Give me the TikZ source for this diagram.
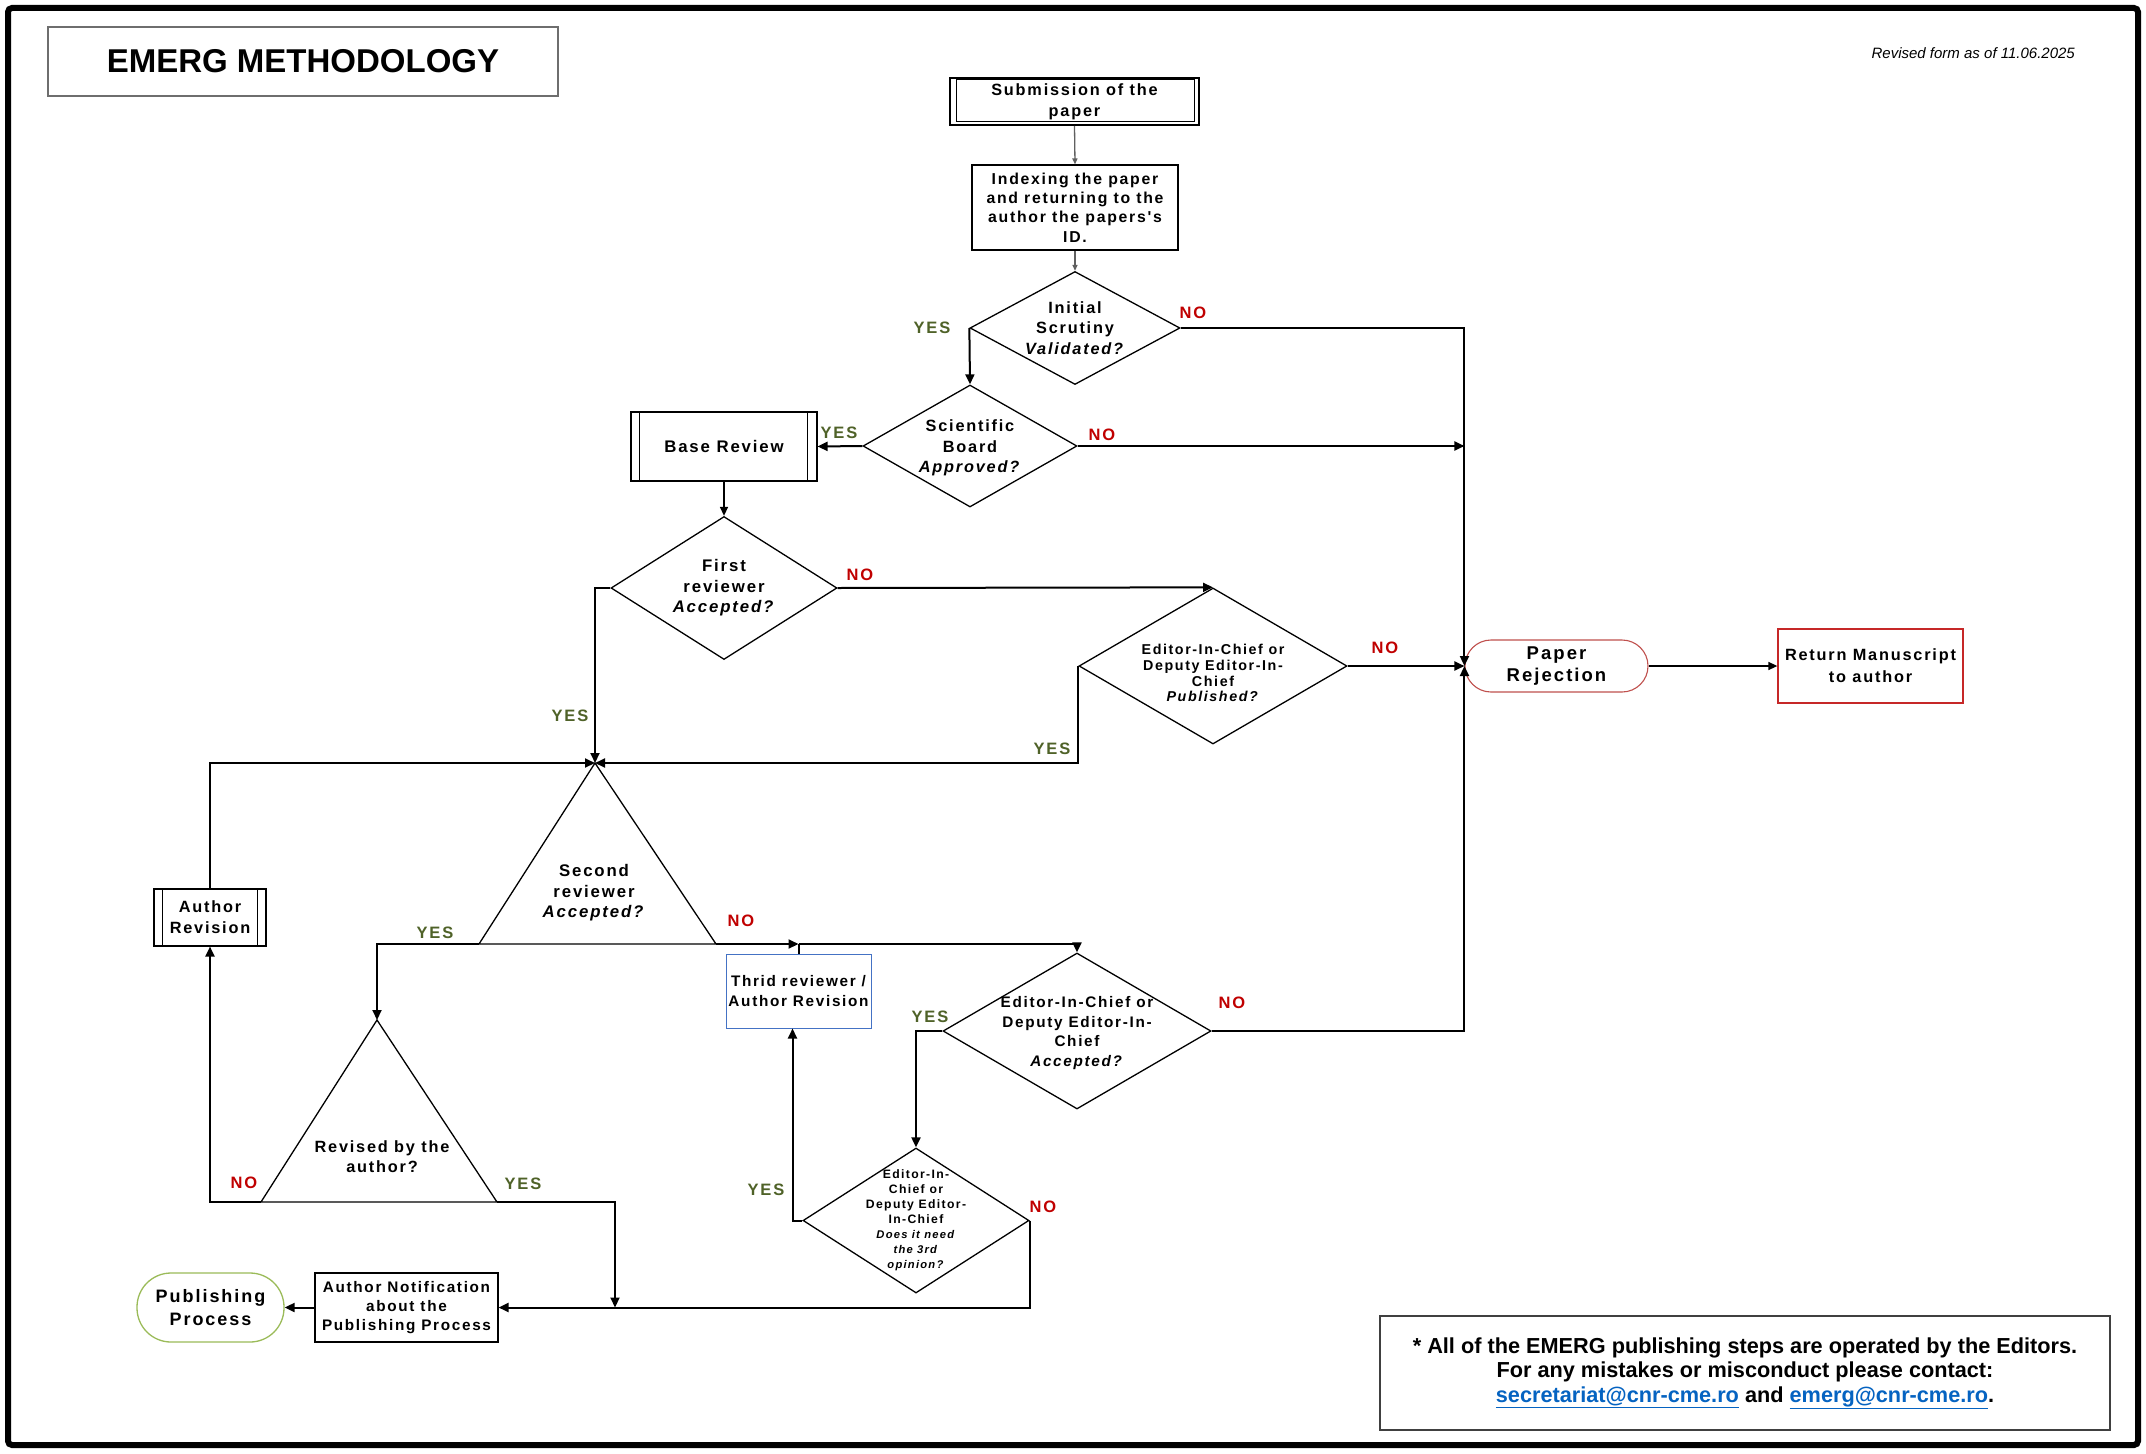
\documentclass[tikz,border=0pt]{standalone}
\usepackage{fontspec}
\setmainfont{Liberation Sans}
\newfontfamily\flowfam[LetterSpace=11]{Liberation Sans}
\usetikzlibrary{shapes.geometric,arrows.meta,calc}
\definecolor{yesgreen}{HTML}{4F6228}
\definecolor{nored}{HTML}{C00000}
\definecolor{rejred}{HTML}{C0504D}
\definecolor{retred}{HTML}{C62828}
\definecolor{pubgreen}{HTML}{9BBB59}
\definecolor{thrblue}{HTML}{4472C4}
\definecolor{linkblue}{HTML}{0563C1}
\definecolor{titlegray}{HTML}{6E6E6E}
\definecolor{footgray}{HTML}{404040}
\definecolor{arrgray}{HTML}{606060}
\newcommand{\ff}[2]{\flowfam\bfseries\fontsize{#1}{#2}\selectfont}
\begin{document}
\begin{tikzpicture}[x=1pt,y=-1pt,
  conn/.style={line width=2pt,-{Triangle[length=10pt,width=9pt]}},
  thinconn/.style={line width=1.4pt,-{Triangle[length=9pt,width=8pt]}},
  grayconn/.style={line width=1.3pt,draw=arrgray,-{Triangle[length=6pt,width=5pt]}},
  box/.style={draw,line width=1.1pt,inner sep=0pt,align=center},
  dia/.style={diamond,draw,line width=1.3pt,inner sep=0pt},
  txt/.style={align=center,inner sep=0pt},
  shapeline/.style={line width=1.3pt,line join=miter},
  yes/.style={font=\ff{16.5}{18},text=yesgreen,inner sep=0pt},
  no/.style={font=\ff{16.5}{18},text=nored,inner sep=0pt}]
\useasboundingbox[fill=white] (0,0) rectangle (2146,1453);
\draw[line width=6pt,rounded corners=4pt] (8,8) rectangle (2138,1445);

% header
\node[draw=titlegray,line width=1.3pt,minimum width=510pt,minimum height=69pt,inner sep=0pt,
  font=\bfseries\fontsize{33}{36}\selectfont] (title) at (303,61.5) {EMERG METHODOLOGY};
\node[anchor=east,inner sep=0pt,font=\itshape\fontsize{15}{18}\selectfont] (rev) at (2075,53) {Revised form as of 11.06.2025};

% top chain
\node[box,line width=2pt,minimum width=249pt,minimum height=47pt,font=\ff{16.3}{21}] (sub) at (1074.5,101.5) {Submission of the\\paper};
\draw[line width=1pt] ($(sub.north west)+(7,3)$) rectangle ($(sub.south east)+(-6,-4)$);
\node[box,minimum width=206pt,minimum height=85pt,font=\ff{15.8}{19.3}] (idx) at (1075,207.5) {Indexing the paper\\and returning to the\\author the papers's\\ID.};
\node[dia,minimum width=210pt,minimum height=113pt,
  label={[txt,font=\ff{16.3}{20.5}]center:{Initial\\Scrutiny\\\textit{Validated?}}}] (d1) at (1075,328) {};
\node[dia,minimum width=214pt,minimum height=122pt,
  label={[txt,font=\ff{16.3}{20.5},yshift=-2pt]center:{Scientific\\Board\\\textit{Approved?}}}] (d2) at (970,446) {};
\node[box,minimum width=186pt,minimum height=69pt,font=\ff{16.8}{20}] (br) at (724,446.5) {Base Review};
\draw[line width=1.1pt] ($(br.north west)+(9,0)$) -- ($(br.south west)+(9,0)$);
\draw[line width=1.1pt] ($(br.north east)+(-10,0)$) -- ($(br.south east)+(-10,0)$);
\node[dia,minimum width=226pt,minimum height=143pt,
  label={[txt,font=\ff{16.8}{20.5}]center:{First\\reviewer\\\textit{Accepted?}}}] (d3) at (724,588) {};
\node[dia,minimum width=268pt,minimum height=156pt,
  label={[txt,font=\ff{14.3}{15.8},yshift=-7pt]center:{Editor-In-Chief or\\Deputy Editor-In-\\Chief\\\textit{Published?}}}] (d4) at (1213,666) {};

% rejection
\node[box,draw=rejred,rounded corners=26pt,minimum width=183pt,minimum height=52pt,font=\ff{18.5}{22.7}] (rej) at (1556.5,666) {Paper\\Rejection};
\node[box,draw=retred,line width=1.3pt,minimum width=185pt,minimum height=74pt,font=\ff{16.3}{21.7}] (ret) at (1870.5,666) {Return Manuscript\\to author};

% second reviewer triangle
\coordinate (t2a) at (595,763);
\coordinate (t2l) at (479,944);
\coordinate (t2r) at (716,944);
\draw[shapeline] (t2a) -- (t2l) -- (t2r) -- cycle;
\node[txt,font=\ff{16.8}{20.5}] (t2txt) at (594,893) {Second\\reviewer\\\textit{Accepted?}};

% author revision
\node[box,minimum width=112pt,minimum height=57pt,font=\ff{16.3}{21}] (ar) at (210,917.5) {Author\\Revision};
\draw[line width=1.1pt] ($(ar.north west)+(9,0)$) -- ($(ar.south west)+(9,0)$);
\draw[line width=1.1pt] ($(ar.north east)+(-9,0)$) -- ($(ar.south east)+(-9,0)$);

% revised triangle
\coordinate (t3a) at (377,1020);
\coordinate (t3l) at (261,1202);
\coordinate (t3r) at (497,1202);
\draw[shapeline] (t3a) -- (t3l) -- (t3r) -- cycle;
\node[txt,font=\ff{16.3}{20}] (t3txt) at (382,1157) {Revised by the\\author?};

% third reviewer and editors
\node[box,draw=thrblue,line width=1pt,minimum width=145pt,minimum height=74pt,font=\ff{15.3}{20}] (thr) at (798.5,991) {Thrid reviewer /\\Author Revision};
\node[dia,minimum width=268pt,minimum height=156pt,
  label={[txt,font=\ff{15.3}{19.5},yshift=-2pt]center:{Editor-In-Chief or\\Deputy Editor-In-\\Chief\\\textit{Accepted?}}}] (d5) at (1077,1031) {};
\node[dia,minimum width=226pt,minimum height=145pt,
  label={[txt,font=\ff{12.2}{15}]center:{Editor-In-\\Chief or\\Deputy Editor-\\In-Chief\\{\fontsize{11.2}{14.5}\selectfont\textit{Does it need}}\\{\fontsize{11.2}{14.5}\selectfont\textit{the 3rd}}\\{\fontsize{11.2}{14.5}\selectfont\textit{opinion?}}}}] (d6) at (916,1220.5) {};

% bottom
\node[box,minimum width=183pt,minimum height=69pt,font=\ff{15.3}{19.3}] (notif) at (406.5,1307.5) {Author Notification\\about the\\Publishing Process};
\node[box,draw=pubgreen,line width=1.3pt,rounded corners=34pt,minimum width=147pt,minimum height=69pt,font=\ff{18}{23}] (pub) at (210.5,1307.5) {Publishing\\Process};
\coordinate (mj) at (615,1307.5);

\node[draw=footgray,line width=1.3pt,minimum width=730pt,minimum height=114pt,inner sep=0pt,align=center,
  font=\bfseries\fontsize{21.7}{24.5}\selectfont] (foot) at (1745,1373)
  {* All of the EMERG publishing steps are operated by the Editors.\\For any mistakes or misconduct please contact:\\\textcolor{linkblue}{\underline{secretariat@cnr-cme.ro}} and \textcolor{linkblue}{\underline{emerg@cnr-cme.ro}}.};

% connectors
\draw[grayconn] (sub.south) -- (idx.north);
\draw[grayconn] (idx.south) -- (d1.north);
\draw[conn] (d1.west) -- (d2.north);
\draw[conn] (d1.east) -| (rej.west);
\draw[conn] (d2.east) -- (d2.east -| rej.west);
\draw[conn] (d2.west) -- (br.east);
\draw[thinconn] (br.south) -- (d3.north);
\draw[conn] (d3.east) -- (d4.north);
\draw[conn] (d4.east) -- (rej.west);
\draw[thinconn] (rej.east) -- (ret.west);
\draw[conn] (d4.west) |- (t2a);
\draw[conn] (d3.west) -| (t2a);
\draw[conn] (ar.north) |- (t2a);
\draw[conn] (t2l) -| (t3a);
\draw[conn] (t2r) -- (thr.north |- t2r);
\draw[line width=2pt] (thr.north) -- (thr.north |- t2r);
\draw[conn] (thr.north |- t2r) -| (d5.north);
\draw[conn] (d5.east) -| (rej.west);
\draw[conn] (d5.west) -| (d6.north);
\draw[conn] (d6.west) -| ($(thr.south)+(-6,0)$);
\draw[conn] (d6.east) |- (notif.east);
\draw[conn] (t3r) -| (mj);
\draw[conn] (t3l) -| (ar.south);
\draw[conn] (notif.west) -- (pub.east);

% labels
\node[yes] (y1) at (932,328) {YES};
\node[no] (n1) at (1193,313) {NO};
\node[yes] (y2) at (839,433) {YES};
\node[no] (n2) at (1102,435) {NO};
\node[no] (n3) at (860,575) {NO};
\node[no] (n4) at (1385,648) {NO};
\node[yes] (y3) at (570,716) {YES};
\node[yes] (y4) at (1052,749) {YES};
\node[yes] (y5) at (435,933) {YES};
\node[no] (n5) at (741,921) {NO};
\node[yes] (y6) at (930,1017) {YES};
\node[no] (n6) at (1232,1003) {NO};
\node[yes] (y7) at (766,1190) {YES};
\node[no] (n7) at (1043,1207) {NO};
\node[no] (n8) at (244,1183) {NO};
\node[yes] (y8) at (523,1184) {YES};
\end{tikzpicture}
\end{document}
